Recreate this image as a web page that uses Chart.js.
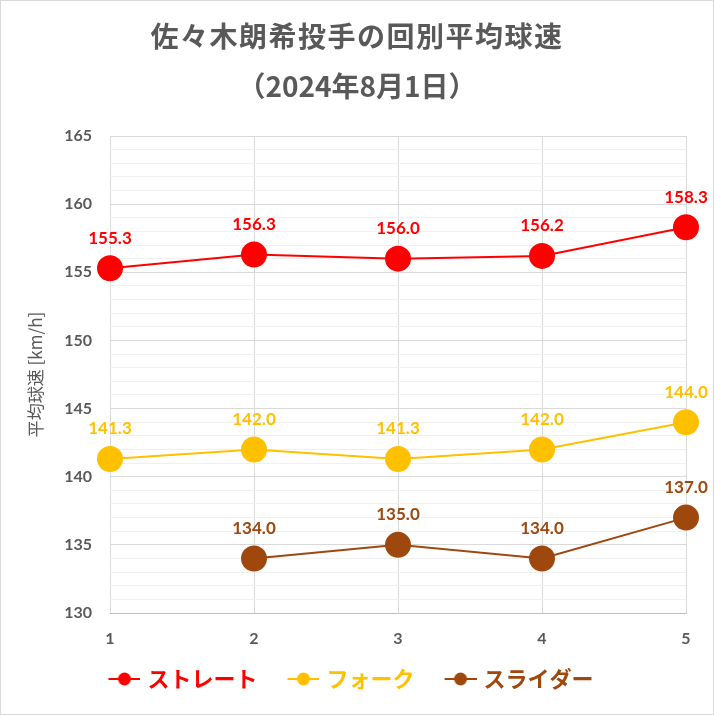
<!DOCTYPE html>
<html>
<head>
<meta charset="utf-8">
<script src="https://cdn.jsdelivr.net/npm/chart.js@4/dist/chart.umd.min.js"></script>
<style>
  html, body { margin: 0; padding: 0; background: #fff; }
  #wrap { width: 714px; height: 715px; position: relative; }
</style>
</head>
<body>
<div id="wrap"><canvas id="c" width="714" height="715"></canvas></div>
<script>
const innings = ['1', '2', '3', '4', '5'];
const straight = [155.3, 156.3, 156.0, 156.2, 158.3];
const fork = [141.3, 142.0, 141.3, 142.0, 144.0];
const slider = [null, 134.0, 135.0, 134.0, 137.0];
const seriesNames = ['ストレート', 'フォーク', 'スライダー'];
const seriesColors = ['#FF0000', '#FFC000', '#9E480E'];
const titleLines = ['佐々木朗希投手の回別平均球速', '（2024年8月1日）'];
const yAxisTitle = '平均球速 [km/h]';

const GRAY = '#595959';
const NUM_FONT = 'Lato, "Liberation Sans", sans-serif';
const JP_FONT = '"Noto Sans CJK JP", "Noto Sans", sans-serif';

// legend marker: transparent lead-in (gap between items) + line with dot
function legendIcon(color) {
  const c = document.createElement('canvas');
  c.width = 52; c.height = 14;
  const g = c.getContext('2d');
  g.strokeStyle = color; g.lineWidth = 2;
  g.beginPath(); g.moveTo(20, 7); g.lineTo(52, 7); g.stroke();
  g.fillStyle = color;
  g.beginPath(); g.arc(36, 7, 6.5, 0, Math.PI * 2); g.fill();
  return c;
}
const icons = seriesColors.map(legendIcon);

const frameAndTitle = {
  id: 'frameAndTitle',
  afterDraw(chart) {
    const ctx = chart.ctx;
    ctx.save();
    ctx.strokeStyle = '#D9D9D9';
    ctx.lineWidth = 1;
    ctx.strokeRect(0.5, 0.5, chart.width - 1, chart.height - 1);
    ctx.fillStyle = GRAY;
    ctx.textAlign = 'center';
    ctx.textBaseline = 'middle';
    ctx.font = 'bold 28px ' + JP_FONT;
    try { ctx.letterSpacing = '1.5px'; } catch (e) {}
    ctx.fillText(titleLines[0], chart.width / 2, 36);
    try { ctx.letterSpacing = '0px'; } catch (e) {}
    ctx.fillText(titleLines[1], chart.width / 2, 86);
    ctx.restore();
  }
};

const valueLabels = {
  id: 'valueLabels',
  afterDatasetsDraw(chart) {
    const ctx = chart.ctx;
    ctx.save();
    ctx.font = 'bold 17px ' + NUM_FONT;
    ctx.textAlign = 'center';
    ctx.textBaseline = 'middle';
    chart.data.datasets.forEach((ds, di) => {
      const meta = chart.getDatasetMeta(di);
      ds.data.forEach((v, i) => {
        if (v === null || v === undefined) return;
        const pt = meta.data[i];
        ctx.fillStyle = ds.borderColor;
        ctx.fillText(v.toFixed(1), pt.x, pt.y - 30);
      });
    });
    ctx.restore();
  }
};

const seriesData = [straight, fork, slider];
const datasets = seriesData.map((d, i) => ({
  label: seriesNames[i],
  data: d,
  borderColor: seriesColors[i],
  backgroundColor: seriesColors[i],
  pointBackgroundColor: seriesColors[i],
  pointBorderColor: seriesColors[i],
  borderWidth: 2,
  pointRadius: 12,
  pointHoverRadius: 12,
  tension: 0,
  spanGaps: false
}));

new Chart(document.getElementById('c'), {
  type: 'line',
  data: { labels: innings, datasets },
  options: {
    responsive: false,
    animation: false,
    devicePixelRatio: 1,
    layout: { padding: { top: 136, left: 0, right: 28, bottom: 15 } },
    plugins: {
      title: { display: false },
      tooltip: { enabled: false },
      legend: {
        position: 'bottom',
        labels: {
          usePointStyle: true,
          pointStyleWidth: 44,
          padding: 14,
          font: { family: JP_FONT, size: 22, weight: 'bold' },
          generateLabels(chart) {
            return chart.data.datasets.map((ds, i) => ({
              text: ds.label,
              fontColor: ds.borderColor,
              fillStyle: ds.borderColor,
              strokeStyle: ds.borderColor,
              lineWidth: 0,
              pointStyle: icons[i],
              hidden: false,
              datasetIndex: i
            }));
          }
        }
      }
    },
    scales: {
      x: {
        type: 'category',
        offset: false,
        grid: { color: '#D9D9D9', drawTicks: false },
        border: { color: '#BFBFBF' },
        ticks: {
          color: GRAY,
          padding: 16,
          font: { family: NUM_FONT, size: 16, weight: 'bold' }
        },
        afterFit(s) { s.height = 41; }
      },
      y: {
        min: 130,
        max: 165,
        grid: {
          drawTicks: false,
          color: (c) => (c.tick && c.tick.value % 5 === 0) ? '#D9D9D9' : '#F0F0F0'
        },
        border: { display: false },
        ticks: {
          stepSize: 1,
          maxTicksLimit: 100,
          autoSkip: false,
          padding: 18,
          color: GRAY,
          font: { family: NUM_FONT, size: 16, weight: 'bold' },
          callback: (v) => (v % 5 === 0 ? String(v) : '')
        },
        title: {
          display: true,
          text: yAxisTitle,
          color: GRAY,
          font: { family: JP_FONT, size: 17, weight: 'normal' },
          padding: { top: 25, bottom: 0 }
        },
        afterFit(s) { s.width = 110; }
      }
    }
  },
  plugins: [valueLabels, frameAndTitle]
});
</script>
</body>
</html>
